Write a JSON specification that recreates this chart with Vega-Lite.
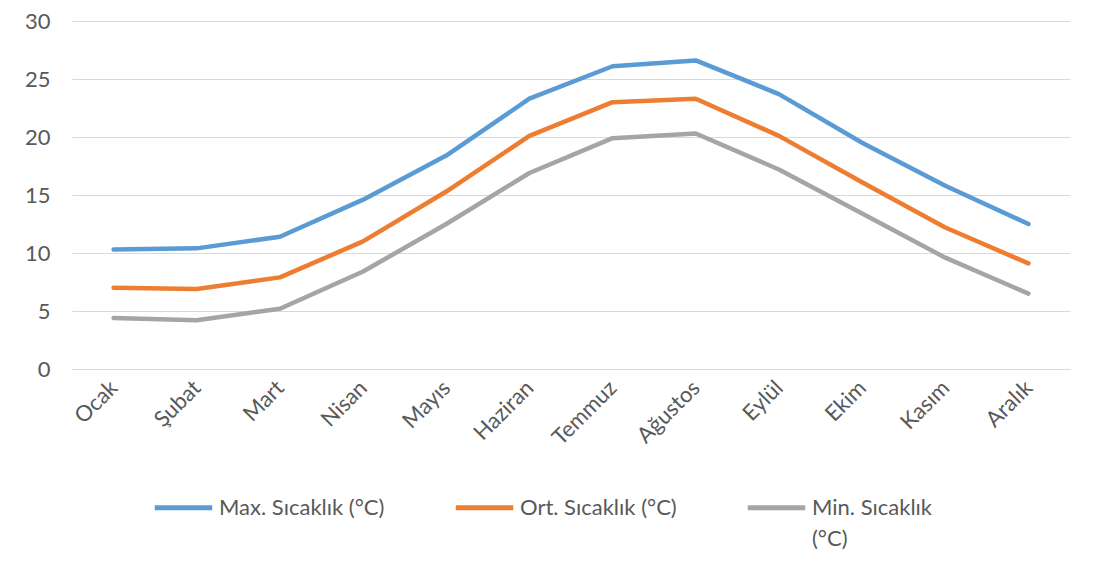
{
  "$schema": "https://vega.github.io/schema/vega-lite/v6.json",
  "width": 998,
  "height": 348,
  "autosize": {"type": "none"},
  "padding": {"left": 72, "top": 21, "right": 31, "bottom": 209},
  "background": "white",
  "data": {
    "values": [
      {"ay": "Ocak", "seri": "Max. Sıcaklık (°C)", "deger": 10.3},
      {"ay": "Şubat", "seri": "Max. Sıcaklık (°C)", "deger": 10.4},
      {"ay": "Mart", "seri": "Max. Sıcaklık (°C)", "deger": 11.4},
      {"ay": "Nisan", "seri": "Max. Sıcaklık (°C)", "deger": 14.6},
      {"ay": "Mayıs", "seri": "Max. Sıcaklık (°C)", "deger": 18.4},
      {"ay": "Haziran", "seri": "Max. Sıcaklık (°C)", "deger": 23.3},
      {"ay": "Temmuz", "seri": "Max. Sıcaklık (°C)", "deger": 26.1},
      {"ay": "Ağustos", "seri": "Max. Sıcaklık (°C)", "deger": 26.6},
      {"ay": "Eylül", "seri": "Max. Sıcaklık (°C)", "deger": 23.7},
      {"ay": "Ekim", "seri": "Max. Sıcaklık (°C)", "deger": 19.5},
      {"ay": "Kasım", "seri": "Max. Sıcaklık (°C)", "deger": 15.8},
      {"ay": "Aralık", "seri": "Max. Sıcaklık (°C)", "deger": 12.5},
      {"ay": "Ocak", "seri": "Ort. Sıcaklık (°C)", "deger": 7.0},
      {"ay": "Şubat", "seri": "Ort. Sıcaklık (°C)", "deger": 6.9},
      {"ay": "Mart", "seri": "Ort. Sıcaklık (°C)", "deger": 7.9},
      {"ay": "Nisan", "seri": "Ort. Sıcaklık (°C)", "deger": 11.0},
      {"ay": "Mayıs", "seri": "Ort. Sıcaklık (°C)", "deger": 15.3},
      {"ay": "Haziran", "seri": "Ort. Sıcaklık (°C)", "deger": 20.1},
      {"ay": "Temmuz", "seri": "Ort. Sıcaklık (°C)", "deger": 23.0},
      {"ay": "Ağustos", "seri": "Ort. Sıcaklık (°C)", "deger": 23.3},
      {"ay": "Eylül", "seri": "Ort. Sıcaklık (°C)", "deger": 20.1},
      {"ay": "Ekim", "seri": "Ort. Sıcaklık (°C)", "deger": 16.1},
      {"ay": "Kasım", "seri": "Ort. Sıcaklık (°C)", "deger": 12.2},
      {"ay": "Aralık", "seri": "Ort. Sıcaklık (°C)", "deger": 9.1},
      {"ay": "Ocak", "seri": "Min. Sıcaklık (°C)", "deger": 4.4},
      {"ay": "Şubat", "seri": "Min. Sıcaklık (°C)", "deger": 4.2},
      {"ay": "Mart", "seri": "Min. Sıcaklık (°C)", "deger": 5.2},
      {"ay": "Nisan", "seri": "Min. Sıcaklık (°C)", "deger": 8.4},
      {"ay": "Mayıs", "seri": "Min. Sıcaklık (°C)", "deger": 12.5},
      {"ay": "Haziran", "seri": "Min. Sıcaklık (°C)", "deger": 16.9},
      {"ay": "Temmuz", "seri": "Min. Sıcaklık (°C)", "deger": 19.9},
      {"ay": "Ağustos", "seri": "Min. Sıcaklık (°C)", "deger": 20.3},
      {"ay": "Eylül", "seri": "Min. Sıcaklık (°C)", "deger": 17.2},
      {"ay": "Ekim", "seri": "Min. Sıcaklık (°C)", "deger": 13.4},
      {"ay": "Kasım", "seri": "Min. Sıcaklık (°C)", "deger": 9.6},
      {"ay": "Aralık", "seri": "Min. Sıcaklık (°C)", "deger": 6.5}
    ]
  },
  "mark": {"type": "line", "strokeWidth": 4.5, "strokeCap": "round", "strokeJoin": "round"},
  "encoding": {
    "x": {
      "field": "ay",
      "type": "ordinal",
      "sort": ["Ocak", "Şubat", "Mart", "Nisan", "Mayıs", "Haziran", "Temmuz", "Ağustos", "Eylül", "Ekim", "Kasım", "Aralık"],
      "scale": {"paddingInner": 0, "paddingOuter": 0.5},
      "axis": {
        "title": null,
        "labelAngle": -45,
        "labelAlign": "right",
        "labelBaseline": "middle",
        "labelPadding": 15,
        "ticks": false,
        "domain": true,
        "domainColor": "#d9d9d9",
        "domainWidth": 1,
        "grid": false,
        "labelFont": "Lato",
        "labelFontSize": 22,
        "labelColor": "#595959"
      }
    },
    "y": {
      "field": "deger",
      "type": "quantitative",
      "scale": {"domain": [0, 30], "nice": false},
      "axis": {
        "title": null,
        "values": [0, 5, 10, 15, 20, 25, 30],
        "ticks": false,
        "domain": false,
        "grid": true,
        "gridColor": "#d9d9d9",
        "gridWidth": 1,
        "labelPadding": 22,
        "labelFont": "Lato",
        "labelFontSize": 22,
        "labelColor": "#595959"
      }
    },
    "color": {
      "field": "seri",
      "type": "nominal",
      "sort": ["Max. Sıcaklık (°C)", "Ort. Sıcaklık (°C)", "Min. Sıcaklık (°C)"],
      "scale": {
        "domain": ["Max. Sıcaklık (°C)", "Ort. Sıcaklık (°C)", "Min. Sıcaklık (°C)"],
        "range": ["#5B9BD5", "#ED7D31", "#A5A5A5"]
      },
      "legend": {
        "title": null,
        "orient": "none",
        "legendX": 80,
        "legendY": 455,
        "direction": "horizontal",
        "columns": 3,
        "gridAlign": "each",
        "symbolType": "stroke",
        "symbolStrokeWidth": 5,
        "symbolSize": 3300,
        "symbolOffset": 0,
        "labelOffset": 4,
        "columnPadding": 60,
        "labelLimit": 250,
        "labelFont": "Lato",
        "labelFontSize": 22,
        "labelColor": "#595959",
        "labelBaseline": "middle",
        "labelExpr": "datum.label == 'Min. Sıcaklık (°C)' ? ['Min. Sıcaklık', '(°C)'] : [datum.label, ' ']"
      }
    }
  },
  "config": {
    "view": {"stroke": null},
    "legend": {"symbolLimit": 0},
    "style": {"guide-label": {"lineHeight": 31}}
  }
}
